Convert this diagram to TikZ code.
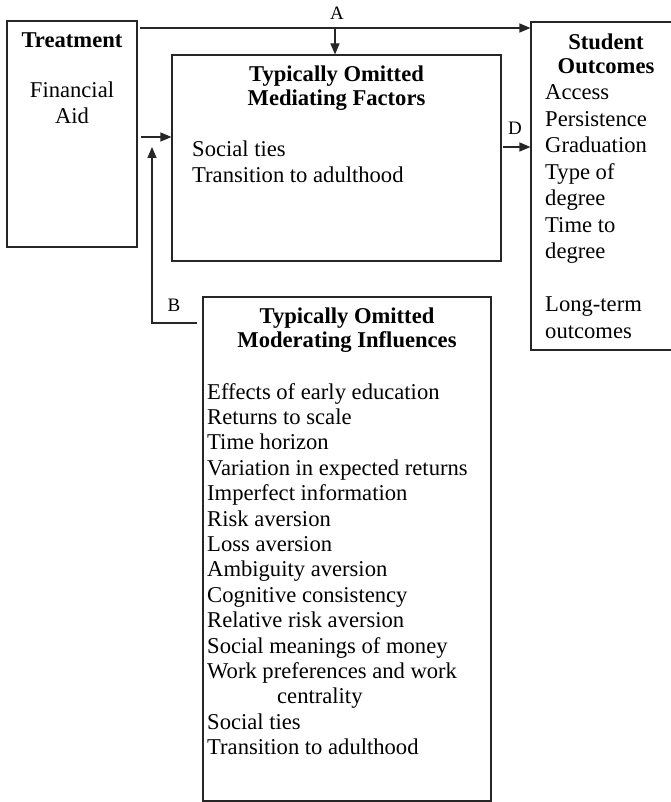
\documentclass[tikz,border=0pt]{standalone}
\usepackage{fontspec}
\setmainfont{Liberation Serif}
\usetikzlibrary{arrows.meta}

\newcommand{\leftlines}[1]{\begin{tabular}[t]{@{}l@{}}#1\end{tabular}}
\newcommand{\midlines}[1]{\begin{tabular}[t]{@{}c@{}}#1\end{tabular}}

\begin{document}
\begin{tikzpicture}[x=1pt,y=-1pt]
    \tikzstyle{box} = [rectangle, draw=black!85, line width=1.1pt, inner sep=0pt]
    \tikzstyle{body} = [inner sep=0pt, anchor=base west, font=\fontsize{22.6}{25.4}\selectfont]
    \tikzstyle{title} = [inner sep=0pt, anchor=base, font=\fontsize{22.6}{24}\selectfont\bfseries]
    \tikzstyle{tag} = [inner sep=0pt, font=\fontsize{19}{19}\selectfont]
    \tikzstyle{arrow} = [line width=1.1pt, draw=black!85, -{Triangle[length=11pt,width=9pt]}]

    \useasboundingbox (0,0) rectangle (670,802);

    % boxes
    \node (treat) [box, minimum width=130pt, minimum height=226pt] at (72,134) {};
    \node (medi) [box, minimum width=329pt, minimum height=206pt] at (336.5,158) {};
    \node (outc) [box, minimum width=150pt, minimum height=328pt] at (606,186) {};
    \node (mode) [box, minimum width=288pt, minimum height=504pt] at (347,549) {};

    % texts
    \node (treatT) [title] at (72,48) {Treatment};
    \node (treatB) [title, font=\fontsize{22.6}{25.4}\selectfont] at (72,98) {\midlines{Financial\\Aid}};

    \node (mediT) [title] at (336.5,82) {\midlines{Typically Omitted\\Mediating Factors}};
    \node (mediB) [body] at (192,157) {\leftlines{Social ties\\Transition to adulthood}};

    \node (outcT) [title] at (606,50) {\midlines{Student\\Outcomes}};
    \node (outcB) [body, font=\fontsize{22.6}{26.5}\selectfont] at (545,100) {\leftlines{Access\\Persistence\\Graduation\\Type of\\degree\\Time to\\degree\\ \\Long-term\\outcomes}};

    \node (modeT) [title] at (347,323) {\midlines{Typically Omitted\\Moderating Influences}};
    \node (modeB) [body] at (207,399) {\leftlines{Effects of early education\\Returns to scale\\Time horizon\\Variation in expected returns\\Imperfect information\\Risk aversion\\Loss aversion\\Ambiguity aversion\\Cognitive consistency\\Relative risk aversion\\Social meanings of money\\Work preferences and work\\\hspace*{70pt}centrality\\Social ties\\Transition to adulthood}};

    % connectors
    \coordinate (aL) at (140,28);
    \coordinate (aJ) at (335,28);
    \draw [arrow] (aL) -- (aL -| outc.west);
    \draw [arrow] (aJ) -- (aJ |- medi.north);
    \node (labA) [tag] at (337,13) {A};

    \coordinate (cL) at (141,137);
    \draw [arrow] (cL) -- (cL -| medi.west);

    \coordinate (bR) at (197,323);
    \coordinate (bC) at (152,323);
    \coordinate (bT) at (152,147);
    \draw [arrow] (bR) -- (bC) -- (bT);
    \node (labB) [tag] at (174,305) {B};

    \coordinate (dL) at (503,147);
    \draw [arrow] (dL) -- (dL -| outc.west);
    \node (labD) [tag] at (515,128) {D};
\end{tikzpicture}
\end{document}
